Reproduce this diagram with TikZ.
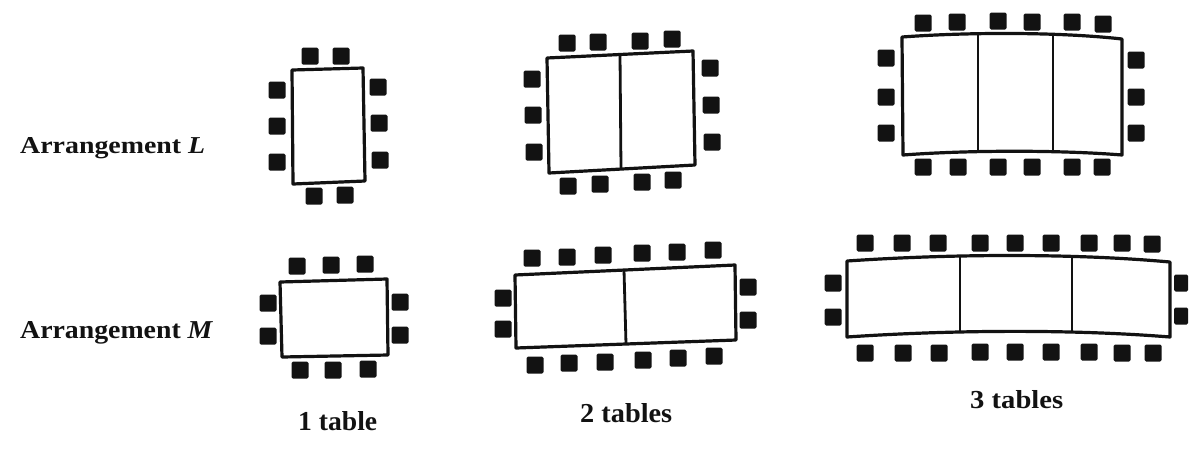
\documentclass[tikz,border=0pt]{standalone}
\usepackage{fontspec}
\setmainfont{Liberation Serif}
\usepackage{graphicx}
\definecolor{ink}{HTML}{121212}
\tikzset{
  pics/chair/.style={code={\fill[ink,rounded corners=1.5pt] (-8.5,-8.5) rectangle (8.5,8.5);}},
  pics/narrowchair/.style={code={\fill[ink,rounded corners=1.5pt] (-7,-8.5) rectangle (7,8.5);}},
  tablebox/.style={draw=ink,line width=3.2pt,fill=white,line join=round},
  divider/.style={draw=ink,line width=2.8pt},
  lbl/.style={inner sep=0pt,anchor=base west,text=ink}
}
\begin{document}
\begin{tikzpicture}[x=1pt,y=-1pt]
\useasboundingbox[fill=white] (0,0) rectangle (1200,451);

% ---------- Arrangement L, 1 table ----------
\draw[tablebox] (292,70) -- (363,68) -- (365,181) -- (293,184) -- cycle;
\foreach \p in {(310,56),(341,56),(277,90),(277,126),(277,162),(378,87),(379,123),(380,160),(314,196),(345,195)}
  \pic at \p {chair};

% ---------- Arrangement L, 2 tables ----------
\draw[tablebox] (547,58) -- (693,51) -- (695,165) -- (549,173) -- cycle;
\draw[divider] (620,54) -- (621,169);
\foreach \p in {(567,43),(598,42),(640,41),(672,39),(532,79),(533,115),(534,152),(710,68),(711,105),(712,142),(568,186),(600,184),(642,182),(673,180)}
  \pic at \p {chair};

% ---------- Arrangement L, 3 tables ----------
\draw[tablebox] (902,37) .. controls (970,32) and (1060,32) .. (1122,39)
  -- (1122,155) .. controls (1060,150) and (970,150) .. (903,155) -- cycle;
\draw[divider] (978,34) -- (978,153);
\draw[divider] (1053,34) -- (1053,152);
\foreach \p in {(923,23),(957,22),(998,21),(1032,22),(1072,22),(1103,24),(886,58),(886,97),(886,133),(1136,60),(1136,97),(1136,133),(923,167),(958,167),(998,167),(1032,167),(1072,167),(1102,167)}
  \pic at \p {chair};

% ---------- Arrangement M, 1 table ----------
\draw[tablebox] (280,282) -- (387,279) -- (388,355) -- (282,357) -- cycle;
\foreach \p in {(297,266),(331,265),(365,264),(268,303),(268,336),(400,302),(400,335),(300,370),(333,370),(368,369)}
  \pic at \p {chair};

% ---------- Arrangement M, 2 tables ----------
\draw[tablebox] (515,275) -- (735,265) -- (736,340) -- (516,348) -- cycle;
\draw[divider] (624,270) -- (626,344);
\foreach \p in {(532,258),(567,257),(603,255),(642,253),(677,252),(713,250),(503,298),(503,329),(748,287),(748,320),(535,365),(569,363),(605,362),(643,360),(678,358),(714,356)}
  \pic at \p {chair};

% ---------- Arrangement M, 3 tables ----------
\draw[tablebox] (847,261) .. controls (950,254) and (1070,253) .. (1170,262)
  -- (1170,337) .. controls (1070,329) and (950,330) .. (847,337) -- cycle;
\draw[divider] (960,257) -- (960,333);
\draw[divider] (1072,256) -- (1072,331);
\foreach \p in {(865,243),(902,243),(938,243),(980,243),(1015,243),(1051,243),(1089,243),(1122,243),(1152,244),(833,283),(833,317),(865,353),(903,353),(939,353),(980,352),(1015,352),(1051,352),(1089,352),(1122,353),(1153,353)}
  \pic at \p {chair};
\foreach \p in {(1181,283),(1181,316)}
  \pic at \p {narrowchair};

% ---------- labels ----------
\node[lbl] (labL) at (20,153) {\resizebox{185pt}{16pt}{\bfseries Arrangement \textit{L}}};
\node[lbl] (labM) at (20,338) {\resizebox{193pt}{17pt}{\bfseries Arrangement \textit{M}}};
\node[lbl] (lab1) at (298,430) {\resizebox{79pt}{19pt}{\bfseries 1 table}};
\node[lbl] (lab2) at (580,422) {\resizebox{92pt}{19pt}{\bfseries 2 tables}};
\node[lbl] (lab3) at (970,408) {\resizebox{93pt}{18pt}{\bfseries 3 tables}};
\end{tikzpicture}
\end{document}
